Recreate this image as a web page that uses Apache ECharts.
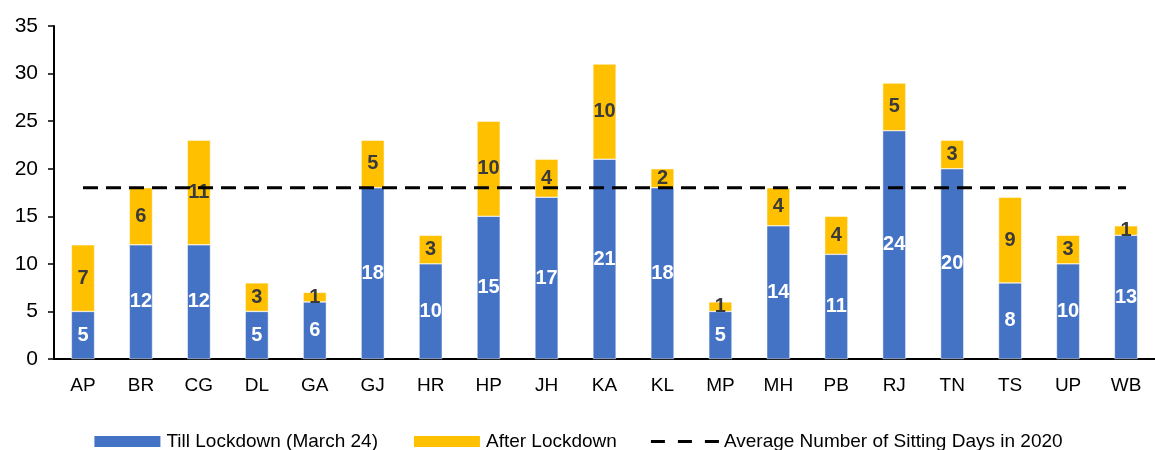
<!DOCTYPE html>
<html>
<head>
<meta charset="utf-8">
<script src="https://cdn.jsdelivr.net/npm/echarts@6/dist/echarts.min.js"></script>
<style>
  html, body { margin: 0; padding: 0; background: #fff; }
  #main { width: 1155px; height: 450px; }
</style>
</head>
<body>
<div id="main"></div>
<script>
var states = ['AP', 'BR', 'CG', 'DL', 'GA', 'GJ', 'HR', 'HP', 'JH', 'KA', 'KL', 'MP', 'MH', 'PB', 'RJ', 'TN', 'TS', 'UP', 'WB'];
var tillLockdown = [5, 12, 12, 5, 6, 18, 10, 15, 17, 21, 18, 5, 14, 11, 24, 20, 8, 10, 13];
var afterLockdown = [7, 6, 11, 3, 1, 5, 3, 10, 4, 10, 2, 1, 4, 4, 5, 3, 9, 3, 1];
var avgDays = 18;
var avgLine = states.map(function () { return avgDays; });

var font = "'Liberation Sans Narrow', 'Liberation Sans', Arial, sans-serif";
var myChart = echarts.init(document.getElementById('main'));

var option = {
    backgroundColor: '#ffffff',
    animation: false,
    grid: { left: 54, right: 0, top: 26, bottom: 91 },
    legend: {
        top: 427,
        left: 'center',
        itemGap: 34,
        itemWidth: 68,
        itemHeight: 13,
        textStyle: { fontFamily: font, fontSize: 19, color: '#000' },
        data: [
            { name: 'Till Lockdown (March 24)', icon: 'rect' },
            { name: 'After Lockdown', icon: 'rect' },
            {
                name: 'Average Number of Sitting Days in 2020',
                icon: 'path://M0,0h14v3h-14z M27,0h14v3h-14z M54,0h14v3h-14z'
            }
        ]
    },
    xAxis: {
        type: 'category',
        data: states,
        axisLine: { lineStyle: { color: '#000', width: 2 } },
        axisTick: { show: false },
        axisLabel: { fontFamily: font, fontSize: 19, color: '#000', margin: 17 }
    },
    yAxis: {
        type: 'value',
        min: 0,
        max: 35,
        interval: 5,
        splitLine: { show: false },
        axisLine: { show: true, lineStyle: { color: '#000', width: 2 } },
        axisTick: { show: true, length: 6, lineStyle: { color: '#000', width: 1.5 } },
        axisLabel: { fontFamily: font, fontSize: 21, color: '#000', margin: 16 }
    },
    series: [
        {
            name: 'Till Lockdown (March 24)',
            type: 'bar',
            stack: 'days',
            barWidth: '40%',
            itemStyle: { color: '#4472C4', borderColor: '#ffffff', borderWidth: 0.5 },
            label: {
                show: true,
                position: 'inside',
                color: '#ffffff',
                fontFamily: font,
                fontWeight: 'bold',
                fontSize: 20
            },
            data: tillLockdown
        },
        {
            name: 'After Lockdown',
            type: 'bar',
            stack: 'days',
            barWidth: '40%',
            itemStyle: { color: '#FFC000', borderColor: '#ffffff', borderWidth: 0.5 },
            label: {
                show: true,
                position: 'inside',
                color: '#3a3a3a',
                fontFamily: font,
                fontWeight: 'bold',
                fontSize: 20
            },
            data: afterLockdown
        },
        {
            name: 'Average Number of Sitting Days in 2020',
            type: 'line',
            symbol: 'none',
            z: 5,
            itemStyle: { color: '#000' },
            lineStyle: { color: '#000', width: 3, type: [15, 8] },
            data: avgLine
        }
    ]
};

myChart.setOption(option);
window.addEventListener('resize', function () {
    myChart.resize();
});
</script>
</body>
</html>
